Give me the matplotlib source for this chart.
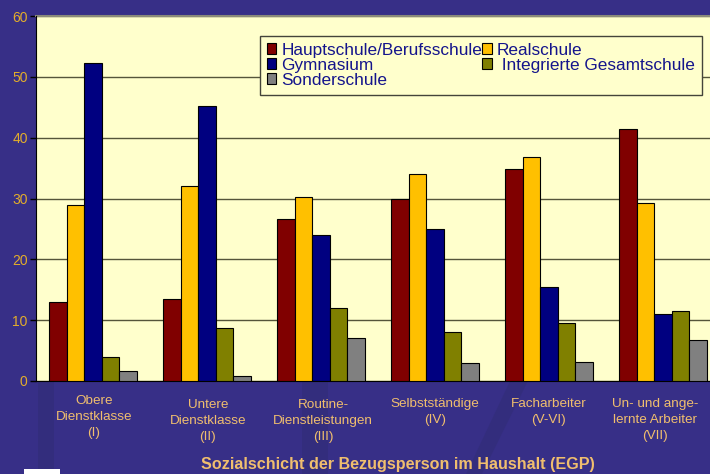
import numpy as np
import matplotlib
matplotlib.use('Agg')
import matplotlib.pyplot as plt
from matplotlib.patches import Rectangle, Polygon

plt.rcParams['font.family'] = ['Liberation Sans', 'DejaVu Sans']

# percent per class
hauptschule = [13.0, 13.4, 26.6, 30.0, 34.8, 41.5]
realschule = [29.0, 32.1, 30.3, 34.0, 36.9, 29.3]
gymnasium = [52.3, 45.2, 24.0, 25.0, 15.4, 11.0]
gesamtschule = [4.0, 8.7, 12.0, 8.0, 9.6, 11.5]
sonderschule = [1.6, 0.8, 7.0, 3.0, 3.2, 6.7]

series = [hauptschule, realschule, gymnasium, gesamtschule, sonderschule]
names = ['Hauptschule/Berufsschule', 'Realschule', 'Gymnasium',
         ' Integrierte Gesamtschule', 'Sonderschule']
colors = ['#800000', '#FFC000', '#000080', '#808000', '#808080']

classes = ['Obere\nDienstklasse\n(I)', 'Untere\nDienstklasse\n(II)',
           'Routine-\nDienstleistungen\n(III)', 'Selbstständige\n(IV)',
           'Facharbeiter\n(V-VI)', 'Un- und ange-\nlernte Arbeiter\n(VII)']
# label placement in pixels
label_x = [94, 208, 323, 435, 549, 655]
label_y = [395, 399, 399, 398, 398, 398]

W, H = 710, 474
fig = plt.figure(figsize=(W / 100, H / 100), dpi=100, facecolor='#372F87')

# faint dark streaks of the slide background
for sx, sw in [(38, 16), (302, 26)]:
    fig.add_artist(Rectangle((sx / W, 0), sw / W, 93 / H, transform=fig.transFigure,
                             facecolor='#2E2C70', edgecolor='none', alpha=0.4, zorder=-5))
fig.add_artist(Polygon([(510 / W, 93 / H), (528 / W, 93 / H), (482 / W, 0), (466 / W, 0)],
                       transform=fig.transFigure, facecolor='#2E2C70', edgecolor='none',
                       alpha=0.4, zorder=-5))

# axes run past the right edge of the slide like in the original
ax = fig.add_axes([36 / W, (H - 381) / H, 684 / W, 365 / H])
ax.set_facecolor('#FFFFCC')
ax.set_xlim(-0.5, 5.5)
ax.set_ylim(0, 60)

bar_w = 0.154
x = np.arange(6)
bars = []
for i, vals in enumerate(series):
    b = ax.bar(x + (i - 2) * bar_w, vals, bar_w, color=colors[i],
               edgecolor='black', linewidth=0.8, zorder=3, label=names[i])
    bars.append(b)

ax.yaxis.grid(True, color='#55553A', linewidth=1.0, zorder=1)
ax.set_axisbelow(True)
ax.set_yticks([0, 10, 20, 30, 40, 50, 60])
ax.tick_params(axis='y', colors='black', labelcolor='#E3AD2B', labelsize=10,
               length=4, width=1, pad=2)
ax.set_xticks(x - 0.5)
ax.tick_params(axis='x', length=0, labelbottom=False)

for side in ['top', 'right']:
    ax.spines[side].set_visible(False)
ax.spines['left'].set_color('black')
ax.spines['bottom'].set_color('black')
ax.plot([0, 1], [1, 1], transform=ax.transAxes, color='#8A8A7A', lw=1.5, clip_on=False)

order = [0, 2, 4, 1, 3]
leg = ax.legend([bars[i] for i in order], [names[i] for i in order], ncol=2,
                loc='upper left', bbox_to_anchor=((260 - 36) / 684, (381 - 36) / 365),
                fontsize=12.4, labelcolor='#14148C', frameon=True, fancybox=False,
                facecolor='#FFFFCC', edgecolor='#44443A', framealpha=1,
                handlelength=0.55, handleheight=0.6, handletextpad=0.3,
                columnspacing=0.0, labelspacing=0.0, borderpad=0.4, borderaxespad=0)
leg.get_frame().set_linewidth(1.0)
leg.set_zorder(5)

for name, lx, ly in zip(classes, label_x, label_y):
    fig.text(lx / W, 1 - ly / H, name, ha='center', va='top', fontsize=9.7,
             color='#F0BE6E', linespacing=1.45)

fig.text(398 / W, 1 - 464 / H, 'Sozialschicht der Bezugsperson im Haushalt (EGP)',
         ha='center', va='center', fontsize=11.6, fontweight='bold', color='#F0BE6E')

# bit of white logo in the corner
fig.add_artist(Rectangle((24 / W, 0), 36 / W, 5 / H, transform=fig.transFigure,
                         facecolor='white', edgecolor='none'))

fig.savefig('out.png', dpi=100, facecolor=fig.get_facecolor())
